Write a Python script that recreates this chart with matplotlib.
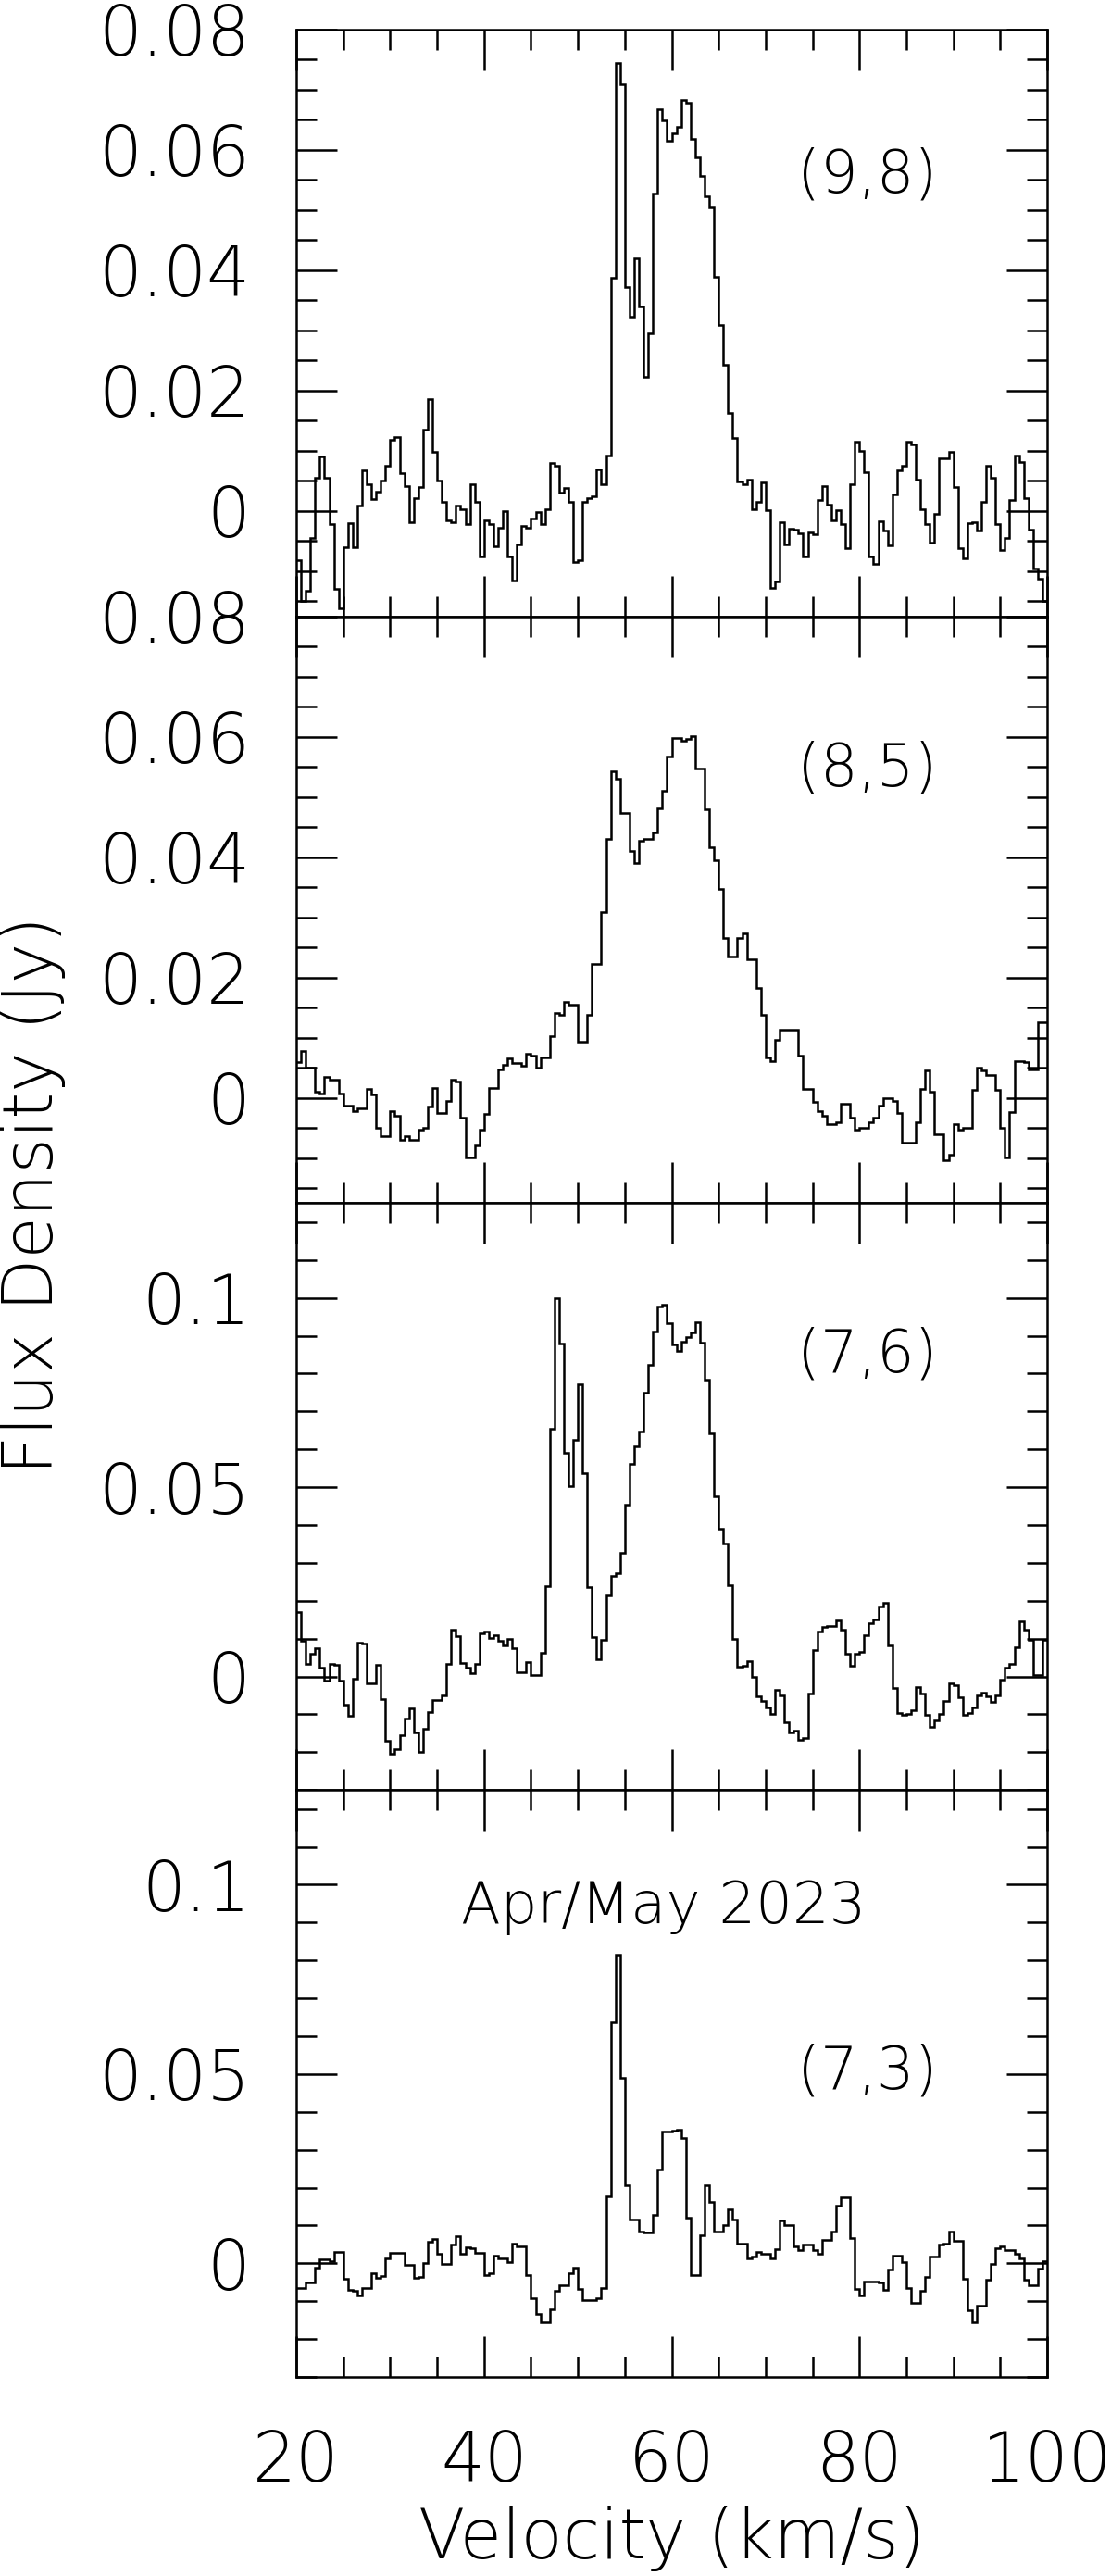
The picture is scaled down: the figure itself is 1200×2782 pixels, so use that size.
import numpy as np
import matplotlib
matplotlib.use('Agg')
import matplotlib.pyplot as plt
from matplotlib.ticker import MultipleLocator, FuncFormatter

plt.rcParams['font.family'] = ['DejaVu Sans']
plt.rcParams['font.weight'] = 'light'

# channel edges, 0.5 km/s channels from 20 to 100 km/s
velocity_edges = np.arange(161) * 0.5 + 20.0

# flux density per channel (Jy)
flux_98 = [
    -0.0082, -0.0150, -0.0132, -0.0045, 0.0056, 0.0091, 0.0056, -0.0022, -0.0129, -0.0162,
    -0.0060, -0.0020, -0.0060, 0.0009, 0.0067, 0.0045, 0.0020, 0.0033, 0.0051, 0.0076,
    0.0118, 0.0123, 0.0063, 0.0041, -0.0019, 0.0021, 0.0040, 0.0135, 0.0186, 0.0098,
    0.0051, 0.0015, -0.0015, -0.0019, 0.0009, 0.0003, -0.0022, 0.0045, 0.0015, -0.0075,
    -0.0015, -0.0022, -0.0059, -0.0027, 0.0000, -0.0075, -0.0115, -0.0055, -0.0025, -0.0027,
    -0.0012, -0.0002, -0.0022, 0.0003, 0.0080, 0.0076, 0.0031, 0.0038, 0.0015, -0.0085,
    -0.0082, 0.0015, 0.0021, 0.0025, 0.0069, 0.0045, 0.0093, 0.0388, 0.0745, 0.0709,
    0.0373, 0.0323, 0.0420, 0.0340, 0.0223, 0.0295, 0.0528, 0.0667, 0.0649, 0.0616,
    0.0628, 0.0639, 0.0683, 0.0678, 0.0618, 0.0588, 0.0557, 0.0523, 0.0505, 0.0389,
    0.0309, 0.0243, 0.0163, 0.0121, 0.0049, 0.0045, 0.0053, 0.0003, 0.0015, 0.0047,
    0.0001, -0.0127, -0.0117, -0.0019, -0.0055, -0.0029, -0.0031, -0.0037, -0.0075, -0.0035,
    -0.0039, 0.0018, 0.0041, 0.0011, -0.0015, 0.0001, -0.0022, -0.0062, 0.0045, 0.0115,
    0.0100, 0.0065, -0.0075, -0.0087, -0.0017, -0.0033, -0.0057, 0.0027, 0.0067, 0.0076,
    0.0116, 0.0111, 0.0053, 0.0003, -0.0022, -0.0052, -0.0004, 0.0088, 0.0088, 0.0098,
    0.0040, -0.0062, -0.0079, -0.0020, -0.0019, -0.0032, 0.0016, 0.0076, 0.0056, -0.0022,
    -0.0064, -0.0045, 0.0018, 0.0093, 0.0081, 0.0021, -0.0031, -0.0095, -0.0112, -0.0150,
]

flux_85 = [
    0.0059, 0.0078, 0.0050, 0.0050, 0.0011, 0.0008, 0.0035, 0.0031, 0.0031, 0.0008,
    -0.0012, -0.0012, -0.0022, -0.0017, -0.0017, 0.0015, 0.0006, -0.0049, -0.0063, -0.0063,
    -0.0022, -0.0029, -0.0070, -0.0063, -0.0069, -0.0069, -0.0052, -0.0049, -0.0014, 0.0017,
    -0.0025, -0.0025, -0.0005, 0.0030, 0.0027, -0.0032, -0.0099, -0.0099, -0.0079, -0.0052,
    -0.0027, 0.0017, 0.0017, 0.0048, 0.0055, 0.0065, 0.0058, 0.0058, 0.0053, 0.0073,
    0.0071, 0.0051, 0.0068, 0.0068, 0.0103, 0.0141, 0.0138, 0.0159, 0.0155, 0.0155,
    0.0093, 0.0093, 0.0138, 0.0223, 0.0223, 0.0309, 0.0430, 0.0543, 0.0530, 0.0473,
    0.0473, 0.0410, 0.0390, 0.0428, 0.0431, 0.0431, 0.0441, 0.0481, 0.0510, 0.0568,
    0.0598, 0.0598, 0.0593, 0.0597, 0.0601, 0.0548, 0.0548, 0.0480, 0.0417, 0.0395,
    0.0348, 0.0265, 0.0235, 0.0235, 0.0265, 0.0273, 0.0230, 0.0230, 0.0183, 0.0138,
    0.0068, 0.0061, 0.0097, 0.0113, 0.0113, 0.0113, 0.0113, 0.0070, 0.0015, 0.0015,
    -0.0007, -0.0022, -0.0029, -0.0043, -0.0043, -0.0041, -0.0009, -0.0010, -0.0032, -0.0052,
    -0.0049, -0.0049, -0.0041, -0.0032, -0.0012, -0.0001, -0.0001, -0.0005, -0.0025, -0.0074,
    -0.0074, -0.0074, -0.0041, 0.0015, 0.0046, 0.0011, -0.0060, -0.0060, -0.0103, -0.0095,
    -0.0043, -0.0052, -0.0050, -0.0050, 0.0013, 0.0051, 0.0046, 0.0038, 0.0038, 0.0013,
    -0.0049, -0.0099, -0.0023, 0.0061, 0.0061, 0.0059, 0.0048, 0.0048, 0.0126, 0.0126,
]

flux_76 = [
    0.0171, 0.0094, 0.0034, 0.0059, 0.0075, 0.0024, -0.0011, 0.0034, 0.0030, -0.0011,
    -0.0075, -0.0105, -0.0005, 0.0089, 0.0088, -0.0019, -0.0017, 0.0030, -0.0059, -0.0169,
    -0.0203, -0.0192, -0.0155, -0.0112, -0.0085, -0.0147, -0.0198, -0.0137, -0.0094, -0.0062,
    -0.0062, -0.0051, 0.0034, 0.0123, 0.0107, 0.0036, 0.0024, 0.0009, 0.0032, 0.0115,
    0.0118, 0.0101, 0.0109, 0.0094, 0.0083, 0.0098, 0.0075, 0.0011, 0.0011, 0.0037,
    0.0004, 0.0004, 0.0062, 0.0239, 0.0655, 0.1000, 0.0880, 0.0590, 0.0502, 0.0625,
    0.0772, 0.0536, 0.0237, 0.0105, 0.0045, 0.0096, 0.0214, 0.0265, 0.0272, 0.0326,
    0.0454, 0.0561, 0.0609, 0.0646, 0.0750, 0.0823, 0.0910, 0.0977, 0.0983, 0.0932,
    0.0878, 0.0860, 0.0885, 0.0897, 0.0908, 0.0935, 0.0882, 0.0784, 0.0643, 0.0476,
    0.0390, 0.0351, 0.0241, 0.0100, 0.0026, 0.0029, 0.0041, 0.0000, -0.0053, -0.0064,
    -0.0083, -0.0099, -0.0035, -0.0049, -0.0122, -0.0147, -0.0144, -0.0168, -0.0163, -0.0046,
    0.0071, 0.0119, 0.0132, 0.0133, 0.0133, 0.0149, 0.0124, 0.0061, 0.0029, 0.0061,
    0.0066, 0.0109, 0.0140, 0.0151, 0.0186, 0.0194, 0.0082, -0.0030, -0.0096, -0.0102,
    -0.0099, -0.0088, -0.0027, -0.0046, -0.0102, -0.0134, -0.0115, -0.0099, -0.0064, -0.0019,
    -0.0024, -0.0056, -0.0102, -0.0096, -0.0083, -0.0051, -0.0043, -0.0053, -0.0067, -0.0051,
    -0.0009, 0.0023, 0.0032, 0.0077, 0.0146, 0.0124, 0.0096, 0.0004, 0.0004, 0.0096,
]

flux_73 = [
    -0.0065, -0.0065, -0.0051, -0.0051, -0.0012, 0.0010, 0.0010, 0.0006, 0.0031, 0.0031,
    -0.0040, -0.0070, -0.0072, -0.0086, -0.0065, -0.0065, -0.0025, -0.0038, -0.0033, 0.0013,
    0.0028, 0.0028, 0.0028, -0.0004, -0.0004, -0.0038, -0.0036, 0.0001, 0.0057, 0.0065,
    0.0025, -0.0001, -0.0001, 0.0049, 0.0072, 0.0025, 0.0043, 0.0041, 0.0028, 0.0028,
    -0.0030, -0.0025, 0.0020, 0.0013, 0.0013, 0.0004, 0.0052, 0.0044, 0.0044, -0.0030,
    -0.0093, -0.0133, -0.0155, -0.0155, -0.0121, -0.0072, -0.0057, -0.0057, -0.0025, -0.0012,
    -0.0067, -0.0096, -0.0096, -0.0096, -0.0093, -0.0065, 0.0176, 0.0637, 0.0815, 0.0489,
    0.0206, 0.0115, 0.0115, 0.0084, 0.0082, 0.0082, 0.0129, 0.0248, 0.0349, 0.0349,
    0.0351, 0.0352, 0.0330, 0.0121, -0.0030, -0.0030, 0.0075, 0.0206, 0.0163, 0.0084,
    0.0084, 0.0100, 0.0142, 0.0115, 0.0052, 0.0052, 0.0013, 0.0017, 0.0031, 0.0025,
    0.0025, 0.0013, 0.0038, 0.0112, 0.0102, 0.0102, 0.0044, 0.0036, 0.0049, 0.0049,
    0.0034, 0.0025, 0.0062, 0.0062, 0.0084, 0.0153, 0.0174, 0.0174, 0.0066, -0.0068,
    -0.0086, -0.0047, -0.0047, -0.0047, -0.0051, -0.0070, -0.0017, 0.0020, 0.0020, 0.0004,
    -0.0065, -0.0104, -0.0104, -0.0072, -0.0036, 0.0017, 0.0017, 0.0049, 0.0052, 0.0084,
    0.0059, 0.0059, -0.0040, -0.0125, -0.0157, -0.0112, -0.0112, -0.0043, -0.0001, 0.0041,
    0.0044, 0.0036, 0.0036, 0.0025, 0.0013, -0.0043, -0.0059, -0.0059, -0.0015, 0.0006,
]

transitions = ['(9,8)', '(8,5)', '(7,6)', '(7,3)']
spectra = [flux_98, flux_85, flux_76, flux_73]
y_limits = [(-0.0175, 0.08), (-0.0175, 0.08), (-0.03, 0.125), (-0.03, 0.125)]
y_major = [0.02, 0.02, 0.05, 0.05]
y_minor = [0.005, 0.005, 0.01, 0.01]
label_heights = [0.751, 0.739, 0.74, 0.52]


def fmt(v, pos):
    if abs(v) < 1e-9:
        return '0'
    return f'{v:g}'


fig = plt.figure(figsize=(12, 27.82), dpi=100)

left, width = 0.2667, 0.6758
bottom0, height = 0.0773, 0.2278

axes = []
for i in range(4):
    b = bottom0 + (3 - i) * height
    ax = fig.add_axes([left, b, width, height])
    ax.stairs(spectra[i], velocity_edges, color='black', linewidth=1.8, baseline=None)
    ax.set_xlim(20, 100)
    ax.set_ylim(*y_limits[i])

    ax.xaxis.set_major_locator(MultipleLocator(20))
    ax.xaxis.set_minor_locator(MultipleLocator(5))
    ax.yaxis.set_major_locator(MultipleLocator(y_major[i]))
    ax.yaxis.set_minor_locator(MultipleLocator(y_minor[i]))
    ax.yaxis.set_major_formatter(FuncFormatter(fmt))

    ax.tick_params(which='both', direction='in', top=True, right=True,
                   width=1.8, labelsize=53, color='black')
    ax.tick_params(which='major', length=32)
    ax.tick_params(which='minor', length=16)
    ax.tick_params(axis='y', pad=36)
    ax.tick_params(axis='x', pad=40)
    if i < 3:
        ax.tick_params(axis='x', labelbottom=False)

    for s in ax.spines.values():
        s.set_linewidth(1.8)

    ax.text(0.761, label_heights[i], transitions[i], transform=ax.transAxes,
            ha='center', va='center', fontsize=46)
    axes.append(ax)

axes[3].text(0.489, 0.80, 'Apr/May 2023', transform=axes[3].transAxes,
             ha='center', va='center', fontsize=45)

fig.text(0.6046, 0.0068, 'Velocity (km/s)', ha='center', va='baseline', fontsize=53)
fig.text(0.03, 0.536, 'Flux Density (Jy)', rotation=90, ha='center', va='center', fontsize=53)

fig.savefig('out.png', dpi=100)
